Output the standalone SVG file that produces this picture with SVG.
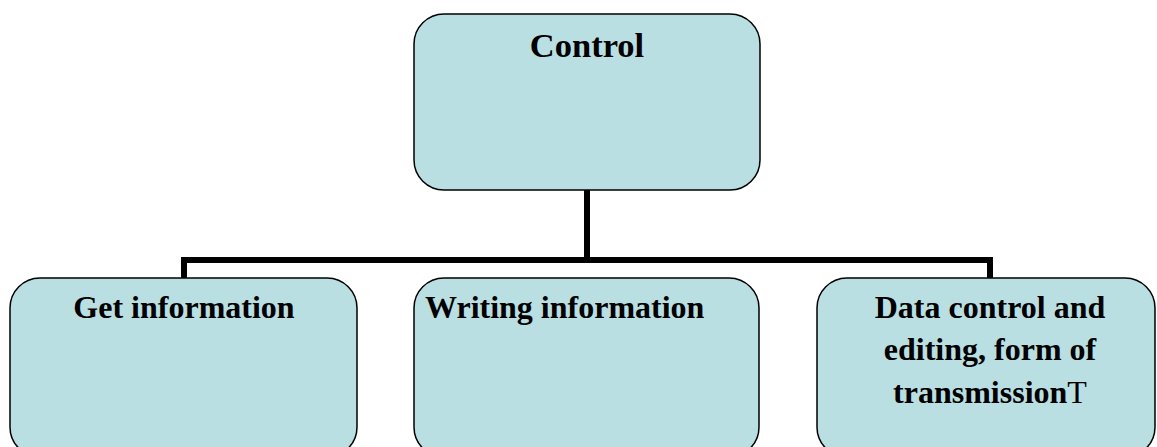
<svg xmlns="http://www.w3.org/2000/svg" width="1157" height="447" viewBox="0 0 1157 447">
<style>
.box{fill:#B9DFE3;stroke:#000;stroke-width:1.5}
.lbl{font-family:"Liberation Serif","Times New Roman",serif;font-weight:bold;font-size:32px;fill:#000}
.big{font-size:34.5px}
.conn{stroke:#000;stroke-width:6;fill:none}
</style>
<rect width="1157" height="447" fill="#fff"/>
<g id="connectors">
<path class="conn" d="M587 190 V260"/>
<path class="conn" d="M184 278 V260 H990 V278" stroke-linejoin="miter"/>
</g>
<g id="control">
<rect class="box" x="414" y="14" width="346" height="176" rx="30"/>
<text class="lbl big" x="587" y="57" text-anchor="middle">Control</text>
</g>
<g id="get-information">
<rect class="box" x="10" y="278" width="347" height="179" rx="30"/>
<text class="lbl" x="184" y="318" text-anchor="middle">Get information</text>
</g>
<g id="writing-information">
<rect class="box" x="414" y="278" width="345" height="179" rx="30"/>
<text class="lbl" x="425" y="318">Writing information</text>
</g>
<g id="data-control">
<rect class="box" x="817" y="278" width="338" height="179" rx="30"/>
<text class="lbl" x="990" y="318" text-anchor="middle">Data control and</text>
<text class="lbl" x="990" y="360" text-anchor="middle">editing, form of</text>
<text class="lbl" x="990" y="403" text-anchor="middle">transmission<tspan font-weight="normal">T</tspan></text>
</g>
</svg>
